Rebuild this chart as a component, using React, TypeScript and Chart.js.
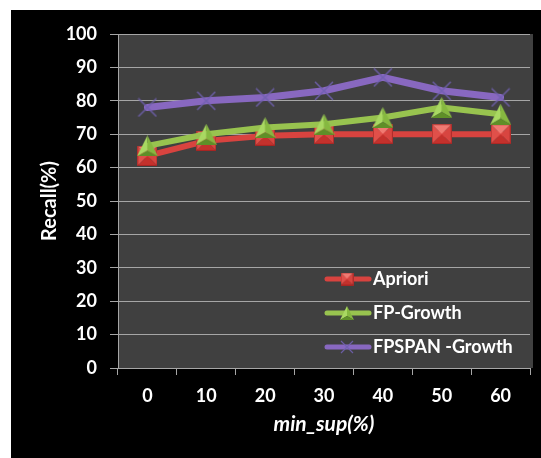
import React, { useEffect, useRef } from "react";
import { Chart, registerables } from "chart.js";

Chart.register(...registerables);

// min_sup values on the horizontal axis
const minSup = ["0", "10", "20", "30", "40", "50", "60"];

// Recall (%) per algorithm
const aprioriRecall = [63.5, 68, 69.5, 70, 70, 70, 70];
const fpGrowthRecall = [66.5, 70, 72, 73, 75, 78, 76];
const fpspanRecall = [78, 80, 81, 83, 87, 83, 81];

const seriesNames = ["Apriori", "FP-Growth", "FPSPAN -Growth"];

const RED = "#d8433f";
const GREEN = "#98c34f";
const PURPLE = "#8868c0";
const GRID = "#a6a6a6";
const FONT = "Lato, 'Liberation Sans', sans-serif";

function makeSquare(size: number): HTMLCanvasElement {
  const c = document.createElement("canvas");
  c.width = size;
  c.height = size;
  const g = c.getContext("2d")!;
  const m = size / 2;
  const tri = (pts: number[][], fill: string) => {
    g.beginPath();
    g.moveTo(pts[0][0], pts[0][1]);
    g.lineTo(pts[1][0], pts[1][1]);
    g.lineTo(pts[2][0], pts[2][1]);
    g.closePath();
    g.fillStyle = fill;
    g.fill();
  };
  tri([[0, 0], [size, 0], [m, m]], "#f07a72");
  tri([[0, 0], [0, size], [m, m]], "#e0504a");
  tri([[size, 0], [size, size], [m, m]], "#d84540");
  tri([[0, size], [size, size], [m, m]], "#c4312c");
  g.strokeStyle = "rgba(150,30,30,0.6)";
  g.lineWidth = 1;
  g.strokeRect(0.5, 0.5, size - 1, size - 1);
  return c;
}

function makeTriangle(size: number): HTMLCanvasElement {
  const c = document.createElement("canvas");
  c.width = size;
  c.height = size;
  const g = c.getContext("2d")!;
  const m = size / 2;
  // left face
  g.beginPath();
  g.moveTo(m, 0);
  g.lineTo(0, size);
  g.lineTo(m, size * 0.72);
  g.closePath();
  g.fillStyle = "#a9d862";
  g.fill();
  // right face
  g.beginPath();
  g.moveTo(m, 0);
  g.lineTo(size, size);
  g.lineTo(m, size * 0.72);
  g.closePath();
  g.fillStyle = "#86b840";
  g.fill();
  // bottom face
  g.beginPath();
  g.moveTo(0, size);
  g.lineTo(size, size);
  g.lineTo(m, size * 0.72);
  g.closePath();
  g.fillStyle = "#5f8f28";
  g.fill();
  return c;
}

function makeCross(size: number, lw: number): HTMLCanvasElement {
  const c = document.createElement("canvas");
  c.width = size;
  c.height = size;
  const g = c.getContext("2d")!;
  g.strokeStyle = "rgba(112,96,176,0.9)";
  g.lineWidth = lw;
  g.beginPath();
  g.moveTo(1, 1);
  g.lineTo(size - 1, size - 1);
  g.moveTo(size - 1, 1);
  g.lineTo(1, size - 1);
  g.stroke();
  return c;
}

export default function App() {
  const canvasRef = useRef<HTMLCanvasElement | null>(null);

  useEffect(() => {
    const canvas = canvasRef.current;
    if (!canvas) return;

    const squareBig = makeSquare(20);
    const triBig = makeTriangle(21);
    const crossBig = makeCross(20, 1.5);
    const legendMarks = [makeSquare(13), makeTriangle(14), makeCross(14, 1.2)];
    const legendColors = [RED, GREEN, PURPLE];

    const plotBackground = {
      id: "plotBackground",
      beforeDraw(chart: any) {
        const { ctx, chartArea } = chart;
        ctx.save();
        ctx.fillStyle = "#404040";
        ctx.fillRect(chartArea.left, chartArea.top, chartArea.right - chartArea.left + 3, chartArea.bottom - chartArea.top);
        ctx.restore();
      },
    };

    const insetLegend = {
      id: "insetLegend",
      afterDraw(chart: any) {
        const { ctx } = chart;
        const rows = [269, 303, 337];
        ctx.save();
        rows.forEach((y, i) => {
          ctx.strokeStyle = legendColors[i];
          ctx.lineWidth = 5;
          ctx.lineCap = "round";
          ctx.beginPath();
          ctx.moveTo(316, y);
          ctx.lineTo(358, y);
          ctx.stroke();
          const mk = legendMarks[i];
          ctx.drawImage(mk, 336 - mk.width / 2, y - mk.height / 2);
          ctx.fillStyle = "#ffffff";
          ctx.font = `bold 18px ${FONT}`;
          ctx.textBaseline = "middle";
          ctx.textAlign = "left";
          ctx.fillText(seriesNames[i], 362, y);
        });
        ctx.restore();
      },
    };

    const common = {
      borderCapStyle: "round" as const,
      borderJoinStyle: "round" as const,
      tension: 0,
      clip: false as const,
    };

    const chart = new Chart(canvas, {
      type: "line",
      data: {
        labels: minSup,
        datasets: [
          {
            ...common,
            label: seriesNames[0],
            data: aprioriRecall,
            borderColor: RED,
            backgroundColor: RED,
            borderWidth: 6,
            pointStyle: squareBig,
            order: 3,
          },
          {
            ...common,
            label: seriesNames[1],
            data: fpGrowthRecall,
            borderColor: GREEN,
            backgroundColor: GREEN,
            borderWidth: 6,
            pointStyle: triBig,
            order: 2,
          },
          {
            ...common,
            label: seriesNames[2],
            data: fpspanRecall,
            borderColor: PURPLE,
            backgroundColor: PURPLE,
            borderWidth: 7,
            pointStyle: crossBig,
            order: 1,
          },
        ],
      },
      options: {
        animation: false,
        responsive: false,
        devicePixelRatio: 1,
        layout: { padding: { top: 24, right: 8, left: 0, bottom: 0 } },
        plugins: {
          legend: { display: false },
          tooltip: { enabled: false },
        },
        scales: {
          x: {
            type: "category",
            offset: true,
            afterFit(scale: any) {
              scale.height = 90;
            },
            grid: {
              offset: true,
              drawOnChartArea: false,
              drawTicks: true,
              tickLength: 7,
              color: GRID,
              tickColor: GRID,
            },
            border: { display: true, color: GRID, width: 1 },
            ticks: {
              color: "#ffffff",
              font: { family: FONT, size: 18, weight: "bold" },
              padding: 10,
              maxRotation: 0,
            },
            title: {
              display: true,
              text: "min_sup(%)",
              color: "#ffffff",
              font: { family: FONT, size: 21, weight: "bold", style: "italic" },
              padding: { top: 0, bottom: 21 },
            },
          },
          y: {
            min: 0,
            max: 100,
            afterFit(scale: any) {
              scale.width = 107;
            },
            grid: {
              color: GRID,
              tickColor: GRID,
              tickLength: 8,
              lineWidth: 1,
            },
            border: { display: true, color: GRID, width: 1 },
            ticks: {
              stepSize: 10,
              color: "#ffffff",
              font: { family: FONT, size: 18, weight: "bold" },
              padding: 13,
            },
            title: {
              display: true,
              text: "Recall(%)",
              color: "#ffffff",
              font: { family: FONT, size: 20, weight: "bold" },
              padding: { top: 27, bottom: 0 },
            },
          },
        },
      },
      plugins: [plotBackground, insetLegend],
    });

    return () => chart.destroy();
  }, []);

  return (
    <div style={{ position: "fixed", left: 0, top: 0, width: 541, height: 458, background: "#ffffff" }}>
      <div style={{ position: "absolute", left: 11, top: 10, width: 530, height: 448, background: "#000000" }}>
        <canvas ref={canvasRef} width={530} height={448} style={{ display: "block" }} />
      </div>
    </div>
  );
}
